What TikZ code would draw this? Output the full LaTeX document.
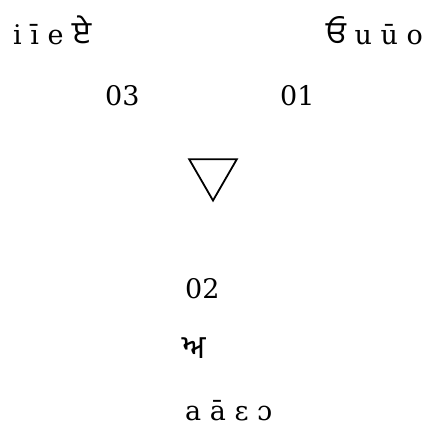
\documentclass[tikz,border=0pt]{standalone}
\usepackage{fontspec}
\setmainfont{DejaVu Serif}
\newfontfamily\gurfont[Script=Gurmukhi,Scale=1.2]{Hind Jalandhar}
\usetikzlibrary{positioning, shapes.geometric}

\begin{document}
\begin{tikzpicture}[
      x=1pt, y=-1pt,
      vowel/.style = {anchor=base west, inner sep=0pt,
                      font=\fontsize{27}{32}\selectfont},
      tri/.style   = {draw, line width=1.8pt, regular polygon,
                      regular polygon sides=3, shape border rotate=180,
                      minimum size=55pt, inner sep=0pt},
    ]
    \useasboundingbox (0,0) rectangle (441,425);
    \node[vowel] (front) at (13,45)  {i ī e {\gurfont ਏ}};
    \node[vowel] (back)  at (326,45) {{\gurfont ਓ} u ū o};
    \node[vowel] (n03)   at (105,106) {03};
    \node[vowel] (n01)   at (280,106) {01};
    \node[tri]   (delta) at (213,173) {};
    \node[vowel] (n02)   at (185,298) {02};
    \node[vowel] (aira)  at (182,358) {\gurfont ਅ};
    \node[vowel] (low)   at (185,420) {a ā ɛ ɔ};
  \end{tikzpicture}
\end{document}
